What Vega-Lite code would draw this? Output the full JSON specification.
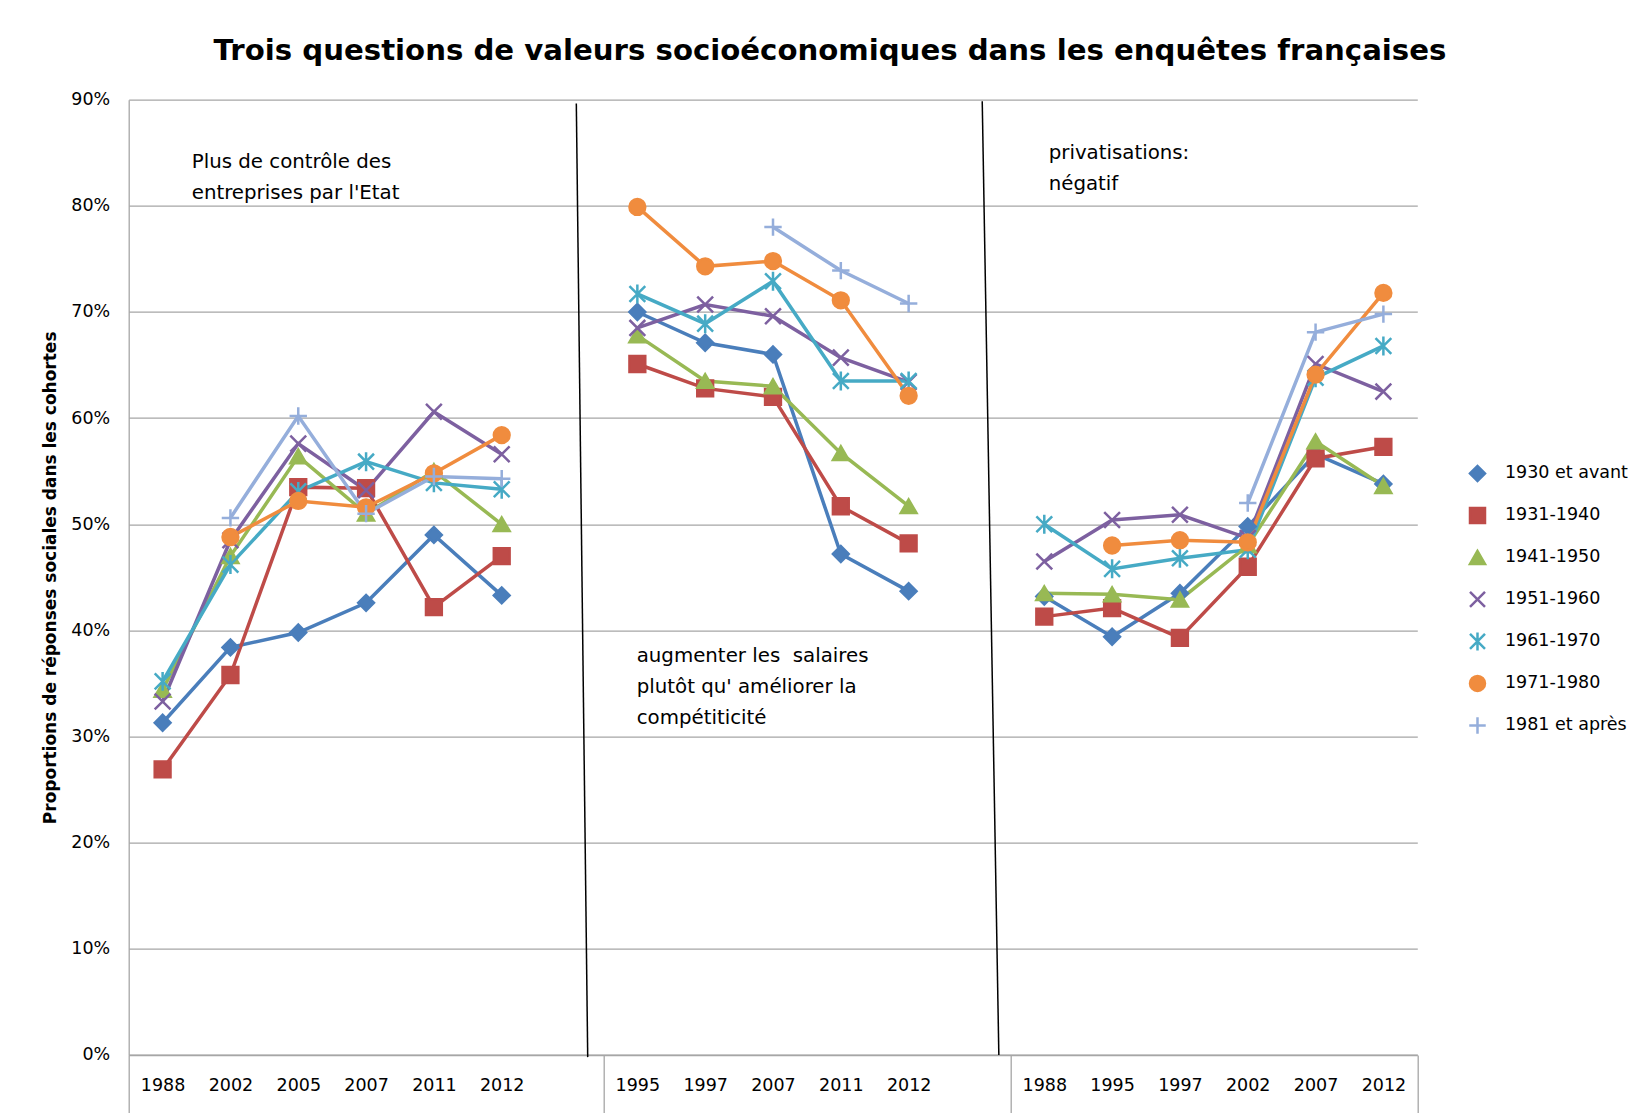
{
  "$schema": "https://vega.github.io/schema/vega-lite/v6.json",
  "width": 1288.6,
  "height": 955.3,
  "autosize": {"type": "none"},
  "padding": {"left": 128.7, "top": 99.7, "right": 210.7, "bottom": 58.3},
  "background": "white",
  "title": {
    "text": "Trois questions de valeurs socioéconomiques dans les enquêtes françaises",
    "font": "DejaVu Sans", "fontSize": 29.2, "fontWeight": "bold", "color": "#000000",
    "anchor": "middle", "dx": 57, "offset": 24
  },
  "config": {"view": {"stroke": null}},
  "datasets": {
    "series": [
      {"p":"A","y":"1988","c":"1930 et avant","v":31.3},
      {"p":"A","y":"2002","c":"1930 et avant","v":38.4},
      {"p":"A","y":"2005","c":"1930 et avant","v":39.8},
      {"p":"A","y":"2007","c":"1930 et avant","v":42.6},
      {"p":"A","y":"2011","c":"1930 et avant","v":49.0},
      {"p":"A","y":"2012","c":"1930 et avant","v":43.3},
      {"p":"B","y":"1995","c":"1930 et avant","v":70.0},
      {"p":"B","y":"1997","c":"1930 et avant","v":67.1},
      {"p":"B","y":"2007","c":"1930 et avant","v":66.0},
      {"p":"B","y":"2011","c":"1930 et avant","v":47.2},
      {"p":"B","y":"2012","c":"1930 et avant","v":43.7},
      {"p":"C","y":"1988","c":"1930 et avant","v":43.2},
      {"p":"C","y":"1995","c":"1930 et avant","v":39.4},
      {"p":"C","y":"1997","c":"1930 et avant","v":43.5},
      {"p":"C","y":"2002","c":"1930 et avant","v":49.8},
      {"p":"C","y":"2007","c":"1930 et avant","v":56.6},
      {"p":"C","y":"2012","c":"1930 et avant","v":53.8},

      {"p":"A","y":"1988","c":"1931-1940","v":26.9},
      {"p":"A","y":"2002","c":"1931-1940","v":35.8},
      {"p":"A","y":"2005","c":"1931-1940","v":53.5},
      {"p":"A","y":"2007","c":"1931-1940","v":53.4},
      {"p":"A","y":"2011","c":"1931-1940","v":42.2},
      {"p":"A","y":"2012","c":"1931-1940","v":47.0},
      {"p":"B","y":"1995","c":"1931-1940","v":65.1},
      {"p":"B","y":"1997","c":"1931-1940","v":62.8},
      {"p":"B","y":"2007","c":"1931-1940","v":62.0},
      {"p":"B","y":"2011","c":"1931-1940","v":51.7},
      {"p":"B","y":"2012","c":"1931-1940","v":48.2},
      {"p":"C","y":"1988","c":"1931-1940","v":41.3},
      {"p":"C","y":"1995","c":"1931-1940","v":42.1},
      {"p":"C","y":"1997","c":"1931-1940","v":39.3},
      {"p":"C","y":"2002","c":"1931-1940","v":46.0},
      {"p":"C","y":"2007","c":"1931-1940","v":56.2},
      {"p":"C","y":"2012","c":"1931-1940","v":57.3},

      {"p":"A","y":"1988","c":"1941-1950","v":34.4},
      {"p":"A","y":"2002","c":"1941-1950","v":47.0},
      {"p":"A","y":"2005","c":"1941-1950","v":56.4},
      {"p":"A","y":"2007","c":"1941-1950","v":51.0},
      {"p":"A","y":"2011","c":"1941-1950","v":55.0},
      {"p":"A","y":"2012","c":"1941-1950","v":50.0},
      {"p":"B","y":"1995","c":"1941-1950","v":67.8},
      {"p":"B","y":"1997","c":"1941-1950","v":63.5},
      {"p":"B","y":"2007","c":"1941-1950","v":63.0},
      {"p":"B","y":"2011","c":"1941-1950","v":56.7},
      {"p":"B","y":"2012","c":"1941-1950","v":51.7},
      {"p":"C","y":"1988","c":"1941-1950","v":43.5},
      {"p":"C","y":"1995","c":"1941-1950","v":43.4},
      {"p":"C","y":"1997","c":"1941-1950","v":42.9},
      {"p":"C","y":"2002","c":"1941-1950","v":48.0},
      {"p":"C","y":"2007","c":"1941-1950","v":57.8},
      {"p":"C","y":"2012","c":"1941-1950","v":53.6},

      {"p":"A","y":"1988","c":"1951-1960","v":33.3},
      {"p":"A","y":"2002","c":"1951-1960","v":48.5},
      {"p":"A","y":"2005","c":"1951-1960","v":57.6},
      {"p":"A","y":"2007","c":"1951-1960","v":53.2},
      {"p":"A","y":"2011","c":"1951-1960","v":60.6},
      {"p":"A","y":"2012","c":"1951-1960","v":56.6},
      {"p":"B","y":"1995","c":"1951-1960","v":68.5},
      {"p":"B","y":"1997","c":"1951-1960","v":70.7},
      {"p":"B","y":"2007","c":"1951-1960","v":69.6},
      {"p":"B","y":"2011","c":"1951-1960","v":65.7},
      {"p":"B","y":"2012","c":"1951-1960","v":63.4},
      {"p":"C","y":"1988","c":"1951-1960","v":46.5},
      {"p":"C","y":"1995","c":"1951-1960","v":50.4},
      {"p":"C","y":"1997","c":"1951-1960","v":50.9},
      {"p":"C","y":"2002","c":"1951-1960","v":48.7},
      {"p":"C","y":"2007","c":"1951-1960","v":65.1},
      {"p":"C","y":"2012","c":"1951-1960","v":62.5},

      {"p":"A","y":"1988","c":"1961-1970","v":35.2},
      {"p":"A","y":"2002","c":"1961-1970","v":46.2},
      {"p":"A","y":"2005","c":"1961-1970","v":53.1},
      {"p":"A","y":"2007","c":"1961-1970","v":55.9},
      {"p":"A","y":"2011","c":"1961-1970","v":53.9},
      {"p":"A","y":"2012","c":"1961-1970","v":53.3},
      {"p":"B","y":"1995","c":"1961-1970","v":71.7},
      {"p":"B","y":"1997","c":"1961-1970","v":68.9},
      {"p":"B","y":"2007","c":"1961-1970","v":72.9},
      {"p":"B","y":"2011","c":"1961-1970","v":63.5},
      {"p":"B","y":"2012","c":"1961-1970","v":63.5},
      {"p":"C","y":"1988","c":"1961-1970","v":50.0},
      {"p":"C","y":"1995","c":"1961-1970","v":45.8},
      {"p":"C","y":"1997","c":"1961-1970","v":46.8},
      {"p":"C","y":"2002","c":"1961-1970","v":47.6},
      {"p":"C","y":"2007","c":"1961-1970","v":63.8},
      {"p":"C","y":"2012","c":"1961-1970","v":66.8},

      {"p":"A","y":"2002","c":"1971-1980","v":48.8},
      {"p":"A","y":"2005","c":"1971-1980","v":52.2},
      {"p":"A","y":"2007","c":"1971-1980","v":51.6},
      {"p":"A","y":"2011","c":"1971-1980","v":54.8},
      {"p":"A","y":"2012","c":"1971-1980","v":58.4},
      {"p":"B","y":"1995","c":"1971-1980","v":79.9},
      {"p":"B","y":"1997","c":"1971-1980","v":74.3},
      {"p":"B","y":"2007","c":"1971-1980","v":74.8},
      {"p":"B","y":"2011","c":"1971-1980","v":71.1},
      {"p":"B","y":"2012","c":"1971-1980","v":62.1},
      {"p":"C","y":"1995","c":"1971-1980","v":48.0},
      {"p":"C","y":"1997","c":"1971-1980","v":48.5},
      {"p":"C","y":"2002","c":"1971-1980","v":48.3},
      {"p":"C","y":"2007","c":"1971-1980","v":64.1},
      {"p":"C","y":"2012","c":"1971-1980","v":71.8},

      {"p":"A","y":"2002","c":"1981 et après","v":50.6},
      {"p":"A","y":"2005","c":"1981 et après","v":60.2},
      {"p":"A","y":"2007","c":"1981 et après","v":51.0},
      {"p":"A","y":"2011","c":"1981 et après","v":54.5},
      {"p":"A","y":"2012","c":"1981 et après","v":54.3},
      {"p":"B","y":"2007","c":"1981 et après","v":78.0},
      {"p":"B","y":"2011","c":"1981 et après","v":73.9},
      {"p":"B","y":"2012","c":"1981 et après","v":70.8},
      {"p":"C","y":"2002","c":"1981 et après","v":52.0},
      {"p":"C","y":"2007","c":"1981 et après","v":68.1},
      {"p":"C","y":"2012","c":"1981 et après","v":69.8}
    ],
    "notes": [
      {"kind":"text","x":0.929,"v":83.6,"t":["Plus de contrôle des","entreprises par l'Etat"]},
      {"kind":"text","x":7.49,"v":37.0,"t":["augmenter les \u00a0salaires","plutôt qu' améliorer la","compétiticité"]},
      {"kind":"text","x":13.565,"v":84.4,"t":["privatisations:","négatif"]},
      {"kind":"sep","x":6.60,"v":89.65,"x2":6.768,"v2":-0.2},
      {"kind":"sep","x":12.585,"v":89.85,"x2":12.83,"v2":0}
    ]
  },
  "layer": [
    {
      "data": {"name": "series"},
      "transform": [
        {"calculate": "datum.p + ' ' + datum.y", "as": "key"},
        {"calculate": "datum.c", "as": "marker"}
      ],
      "encoding": {
        "x": {
          "field": "key", "type": "ordinal",
          "scale": {
            "type": "band", "paddingInner": 0, "paddingOuter": 0,
            "domain": ["A 1988","A 2002","A 2005","A 2007","A 2011","A 2012","A gap",
                       "B 1995","B 1997","B 2007","B 2011","B 2012","B gap",
                       "C 1988","C 1995","C 1997","C 2002","C 2007","C 2012"]
          },
          "axis": {
            "title": null,
            "labelExpr": "indexof(datum.label, 'gap') >= 0 ? '' : slice(datum.label, 2)",
            "labelAngle": 0,
            "labelFont": "DejaVu Sans", "labelFontSize": 17.5, "labelColor": "#000000",
            "labelPadding": -36,
            "tickBand": "extent", "ticks": true, "tickSize": 58, "tickWidth": 1.3,
            "tickColor": {
              "condition": {"test": "datum.extra || datum.value === 'A gap' || datum.value === 'B gap' || datum.value === 'C 2012'", "value": "#a6a6a6"},
              "value": "transparent"
            },
            "domainColor": "#a6a6a6", "domainWidth": 1.3,
            "grid": false
          }
        },
        "y": {
          "field": "v", "type": "quantitative",
          "scale": {"domain": [0, 90], "nice": false, "zero": true},
          "axis": {
            "title": "Proportions de réponses sociales dans les cohortes",
            "titleFont": "DejaVu Sans", "titleFontWeight": "bold", "titleFontSize": 17, "titleColor": "#000000",
            "titleX": -78.7, "titleBaseline": "middle",
            "values": [0,10,20,30,40,50,60,70,80,90],
            "labelExpr": "datum.value + '%'",
            "labelFont": "DejaVu Sans", "labelFontSize": 17.5, "labelColor": "#000000",
            "labelPadding": 19,
            "ticks": false,
            "grid": true, "gridColor": "#a6a6a6", "gridWidth": 1.3,
            "domainColor": "#a6a6a6", "domainWidth": 1.3
          }
        },
        "color": {
          "field": "c", "type": "nominal",
          "scale": {
            "domain": ["1930 et avant","1931-1940","1941-1950","1951-1960","1961-1970","1971-1980","1981 et après"],
            "range": ["#4A7EBB","#BE4B48","#98B954","#7D60A0","#46AAC5","#F08C3E","#95AEDB"]
          },
          "legend": {
            "title": null, "orient": "none", "legendX": 1339.8, "legendY": 364.7,
            "padding": 0, "symbolSize": 225, "symbolStrokeWidth": 2.5,
            "rowPadding": 14, "gridAlign": "all",
            "labelFont": "DejaVu Sans", "labelFontSize": 17.5, "labelColor": "#000000", "labelOffset": 18.5
          }
        }
      },
      "layer": [
        {
          "mark": {"type": "line", "strokeWidth": 3.5},
          "encoding": {"detail": {"field": "p"}}
        },
        {
          "mark": {"type": "point", "filled": true, "size": 250, "strokeWidth": 2.5, "opacity": 1},
          "encoding": {
            "shape": {
              "field": "marker", "type": "nominal",
              "scale": {
                "domain": ["1930 et avant","1931-1940","1941-1950","1951-1960","1961-1970","1971-1980","1981 et après"],
                "range": ["diamond","square","triangle-up","M-1,-1L1,1M-1,1L1,-1","M-1,-1L1,1M-1,1L1,-1M0,-1.2L0,1.2","circle","M-1.1,0L1.1,0M0,-1.1L0,1.1"]
              },
              "legend": null
            },
            "stroke": {
              "field": "marker", "type": "nominal",
              "scale": {
                "domain": ["1930 et avant","1931-1940","1941-1950","1951-1960","1961-1970","1971-1980","1981 et après"],
                "range": ["#4A7EBB","#BE4B48","#98B954","#7D60A0","#46AAC5","#F08C3E","#95AEDB"]
              },
              "legend": null
            }
          }
        }
      ]
    },
    {
      "data": {"name": "notes"},
      "encoding": {
        "x": {"field": "x", "type": "quantitative", "scale": {"domain": [0, 19], "nice": false, "zero": false}, "axis": null},
        "y": {"field": "v", "type": "quantitative", "scale": {"domain": [0, 90], "nice": false, "zero": true}}
      },
      "layer": [
        {
          "transform": [{"filter": "datum.kind === 'sep'"}],
          "mark": {"type": "rule", "color": "#000000", "strokeWidth": 1.5},
          "encoding": {"x2": {"field": "x2"}, "y2": {"field": "v2"}}
        },
        {
          "transform": [{"filter": "datum.kind === 'text'"}],
          "mark": {"type": "text", "align": "left", "baseline": "alphabetic", "font": "DejaVu Sans", "fontSize": 19.8, "lineHeight": 31, "color": "#000000"},
          "encoding": {"text": {"field": "t"}}
        }
      ]
    }
  ],
  "resolve": {"scale": {"x": "independent"}}
}
